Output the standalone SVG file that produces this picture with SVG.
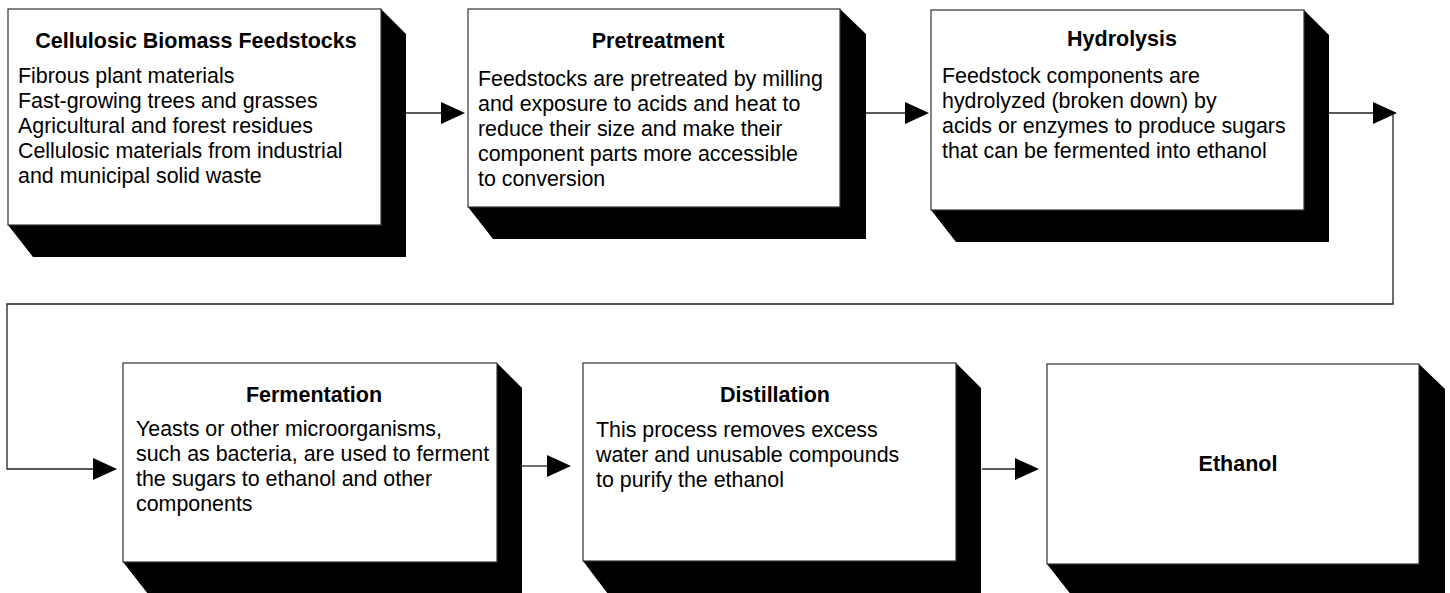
<svg xmlns="http://www.w3.org/2000/svg" width="1450" height="593" viewBox="0 0 1450 593">
<style>
.box{fill:#fff;stroke:#333;stroke-width:1.2}
.sh{fill:#000}
.t{font-family:"Liberation Sans",Arial,sans-serif;font-size:21.5px;font-weight:bold;fill:#000;text-anchor:middle}
.b{font-family:"Liberation Sans",Arial,sans-serif;font-size:21.4px;fill:#000}
.ln{fill:none;stroke:#222;stroke-width:1.3}
.ah{fill:#000}
</style>
<rect width="1450" height="593" fill="#fff"/>
<g id="connectors">
<path class="ln" d="M406,113 H442"/>
<polygon class="ah" points="441,102 465,113 441,124"/>
<path class="ln" d="M866,113 H906"/>
<polygon class="ah" points="905,102 929,113 905,124"/>
<path class="ln" d="M1329,113 H1393 V304 H7 V469 H94"/>
<polygon class="ah" points="1373,102 1397,113 1373,124"/>
<polygon class="ah" points="93,458 117,469 93,480"/>
<path class="ln" d="M522,466 H548"/>
<polygon class="ah" points="547,455 571,466 547,477"/>
<path class="ln" d="M982,469 H1016"/>
<polygon class="ah" points="1015,458 1039,469 1015,480"/>
</g>
<g id="feedstocks">
<polygon class="sh" points="381,9 406,34 406,257 33,257 8,225"/>
<rect class="box" x="8" y="9" width="373" height="216"/>
<text class="t" x="196" y="48">Cellulosic Biomass Feedstocks</text>
<text class="b" x="18" y="83">Fibrous plant materials</text>
<text class="b" x="18" y="108">Fast-growing trees and grasses</text>
<text class="b" x="18" y="133">Agricultural and forest residues</text>
<text class="b" x="18" y="158">Cellulosic materials from industrial</text>
<text class="b" x="18" y="183">and municipal solid waste</text>
</g>
<g id="pretreatment">
<polygon class="sh" points="840,9 866,34 866,239 493,239 468,207"/>
<rect class="box" x="468" y="9" width="372" height="198"/>
<text class="t" x="658" y="48">Pretreatment</text>
<text class="b" x="478" y="86">Feedstocks are pretreated by milling</text>
<text class="b" x="478" y="111">and exposure to acids and heat to</text>
<text class="b" x="478" y="136">reduce their size and make their</text>
<text class="b" x="478" y="161">component parts more accessible</text>
<text class="b" x="478" y="186">to conversion</text>
</g>
<g id="hydrolysis">
<polygon class="sh" points="1304,10 1329,35 1329,242 956,242 931,210"/>
<rect class="box" x="931" y="10" width="373" height="200"/>
<text class="t" x="1122" y="46">Hydrolysis</text>
<text class="b" x="942" y="83">Feedstock components are</text>
<text class="b" x="942" y="108">hydrolyzed (broken down) by</text>
<text class="b" x="942" y="133">acids or enzymes to produce sugars</text>
<text class="b" x="942" y="158">that can be fermented into ethanol</text>
</g>
<g id="fermentation">
<polygon class="sh" points="497,363 522,388 522,594 148,594 123,562"/>
<rect class="box" x="123" y="363" width="374" height="199"/>
<text class="t" x="314" y="402">Fermentation</text>
<text class="b" x="136" y="436">Yeasts or other microorganisms,</text>
<text class="b" x="136" y="461">such as bacteria, are used to ferment</text>
<text class="b" x="136" y="486">the sugars to ethanol and other</text>
<text class="b" x="136" y="511">components</text>
</g>
<g id="distillation">
<polygon class="sh" points="956,363 981,388 981,594 608,594 583,561"/>
<rect class="box" x="583" y="363" width="373" height="198"/>
<text class="t" x="775" y="402">Distillation</text>
<text class="b" x="596" y="437">This process removes excess</text>
<text class="b" x="596" y="462">water and unusable compounds</text>
<text class="b" x="596" y="487">to purify the ethanol</text>
</g>
<g id="ethanol">
<polygon class="sh" points="1419,364 1445,389 1445,596 1072,596 1047,564"/>
<rect class="box" x="1047" y="364" width="372" height="200"/>
<text class="t" x="1238" y="471">Ethanol</text>
</g>
</svg>
